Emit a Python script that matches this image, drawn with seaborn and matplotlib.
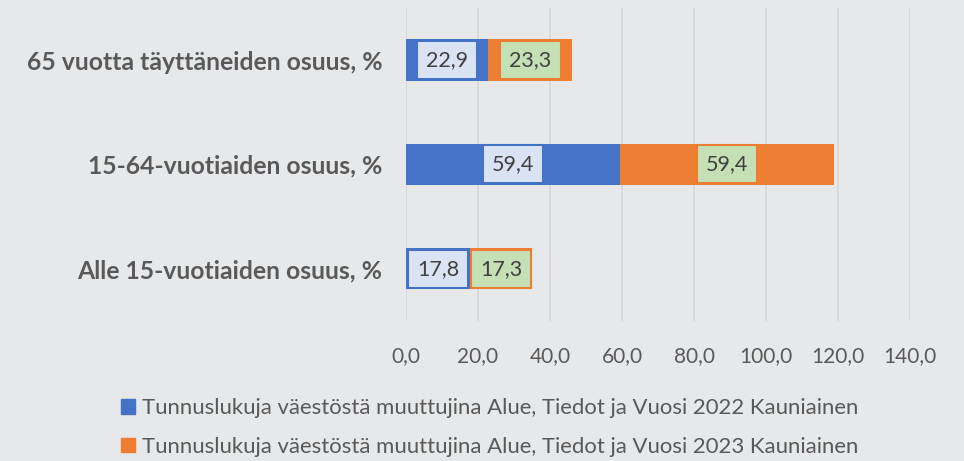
import seaborn as sns
import pandas as pd
import matplotlib as mpl
from matplotlib import pyplot as plt
from matplotlib.patches import Patch

categories = ['65 vuotta täyttäneiden osuus, %',
              '15-64-vuotiaiden osuus, %',
              'Alle 15-vuotiaiden osuus, %']
values_2022 = [22.9, 59.4, 17.8]
values_2023 = [23.3, 59.4, 17.3]
series_names = ['Tunnuslukuja väestöstä muuttujina Alue, Tiedot ja Vuosi 2022 Kauniainen',
                'Tunnuslukuja väestöstä muuttujina Alue, Tiedot ja Vuosi 2023 Kauniainen']
x_ticks = [0, 20, 40, 60, 80, 100, 120, 140]

BLUE = '#4472C4'
ORANGE = '#ED7D31'
BG = '#E7E8EA'

sns.set_theme(style='white')
plt.rcParams['font.family'] = ['Lato', 'DejaVu Sans']

df = pd.DataFrame({'cat': categories, 'v22': values_2022, 'v23': values_2023})
df['total'] = df['v22'] + df['v23']

fig = plt.figure(figsize=(9.64, 4.61), dpi=100, facecolor=BG)
ax = fig.add_axes([0.4212, 0.3043, 0.5228, 0.6783])
ax.set_facecolor(BG)

# stacked: total in orange, 2022 on top in blue
sns.barplot(data=df, y='cat', x='total', color=ORANGE, orient='h', width=0.4,
            saturation=1, linewidth=0, edgecolor='none', ax=ax, zorder=2)
sns.barplot(data=df, y='cat', x='v22', color=BLUE, orient='h', width=0.4,
            saturation=1, linewidth=0, edgecolor='none', ax=ax, zorder=3)

def fmt(v):
    return f'{v:.1f}'.replace('.', ',')

for i, row in df.iterrows():
    ax.text(row['v22'] / 2, i, fmt(row['v22']),
            ha='center', va='center', fontsize=15.5, color='#404040', zorder=5,
            bbox=dict(boxstyle='square,pad=0.42', fc='#DAE3F3', ec=BLUE, lw=1.5))
    ax.text(row['v22'] + row['v23'] / 2, i, fmt(row['v23']),
            ha='center', va='center', fontsize=15.5, color='#404040', zorder=5,
            bbox=dict(boxstyle='square,pad=0.42', fc='#C5E0B4', ec=ORANGE, lw=1.5))

ax.set_xlim(0, 140)
ax.set_ylim(2.5, -0.5)
ax.set_xticks(x_ticks)
ax.xaxis.set_major_formatter(mpl.ticker.FuncFormatter(lambda v, p: fmt(v)))
ax.tick_params(axis='x', length=0, pad=18, labelsize=15, labelcolor='#595959')
ax.tick_params(axis='y', length=0, pad=17, labelsize=17.8, labelcolor='#595959')
for lab in ax.get_yticklabels():
    lab.set_fontweight('bold')
ax.set_xlabel('')
ax.set_ylabel('')
ax.grid(axis='x', color='#D8D9DB', linewidth=1.3, zorder=0)
ax.set_axisbelow(True)
for s in ax.spines.values():
    s.set_visible(False)

handles = [Patch(color=BLUE), Patch(color=ORANGE)]
fig.legend(handles, series_names, loc='center', bbox_to_anchor=(0.508, 0.0727),
           ncol=1, frameon=False, fontsize=15.9, labelcolor='#595959',
           handlelength=0.65, handleheight=0.65, handletextpad=0.3,
           labelspacing=0.85, borderpad=0)

plt.savefig('out.png', dpi=100, facecolor=BG)
